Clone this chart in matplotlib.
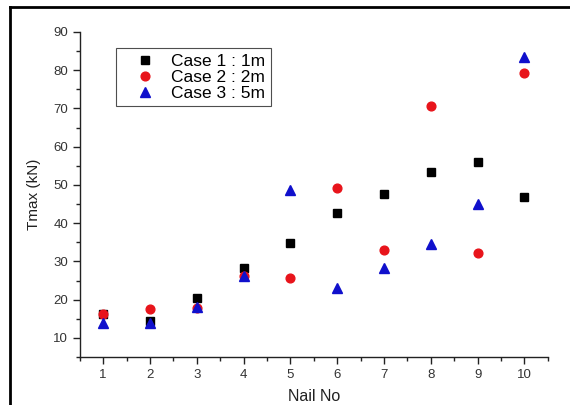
import matplotlib
matplotlib.use("Agg")
import matplotlib.pyplot as plt
from matplotlib.lines import Line2D
from matplotlib.ticker import MultipleLocator

plt.rcParams['font.family'] = ['Liberation Sans', 'DejaVu Sans']

nail_no = [1, 2, 3, 4, 5, 6, 7, 8, 9, 10]
case1 = [16.3, 14.3, 20.5, 28.4, 34.9, 42.6, 47.6, 53.4, 56.1, 46.8]
case2 = [16.3, 17.5, 17.7, 26.3, 25.6, 49.3, 33.0, 70.7, 32.3, 79.2]
case3 = [14.0, 13.8, 18.2, 26.3, 48.6, 23.0, 28.3, 34.5, 45.0, 83.4]
labels = ['Case 1 : 1m', 'Case 2 : 2m', 'Case 3 : 5m']

fig = plt.figure(figsize=(5.7, 4.05), dpi=100)
ax = fig.add_axes([0.140, 0.1185, 0.821, 0.8025])

ax.plot(nail_no, case1, linestyle='none', marker='s', ms=5.8, color='black', label=labels[0])
ax.plot(nail_no, case2, linestyle='none', marker='o', ms=6.3, color='#e8141b', label=labels[1])
ax.plot(nail_no, case3, linestyle='none', marker='^', ms=6.8, color='#1010cc', label=labels[2])

ax.set_xlim(0.5, 10.5)
ax.set_ylim(5, 90)
ax.xaxis.set_major_locator(MultipleLocator(1))
ax.xaxis.set_minor_locator(MultipleLocator(0.5))
ax.yaxis.set_minor_locator(MultipleLocator(5))
ax.set_yticks(range(10, 100, 10))
ax.spines['top'].set_visible(False)
ax.spines['right'].set_visible(False)
for s in ['left', 'bottom']:
    ax.spines[s].set_linewidth(1.0)
    ax.spines[s].set_color('#222222')
ax.tick_params(which='major', direction='out', length=5, width=1, labelsize=9.5,
               colors='#222222', labelcolor='#333333')
ax.tick_params(which='minor', direction='out', length=3, width=1, colors='#222222')

ax.set_xlabel('Nail No', fontsize=11.5, color='#222222', labelpad=6)
ax.set_ylabel('Tmax (kN)', fontsize=11, color='#222222', labelpad=9)

leg = ax.legend(loc='upper left', bbox_to_anchor=(0.077, 0.95), fontsize=12.5,
                frameon=True, fancybox=False, edgecolor='#222222',
                handletextpad=0.1, borderpad=0.3, labelspacing=0.05, handlelength=2.8,
                borderaxespad=0)
leg.get_frame().set_linewidth(0.8)

# outer frame of the picture (left and top only)
fig.add_artist(Line2D([0.017, 0.017], [0.0, 0.982], transform=fig.transFigure, color='black', lw=2))
fig.add_artist(Line2D([0.017, 1.0], [0.982, 0.982], transform=fig.transFigure, color='black', lw=2))

fig.savefig('out.png', dpi=100)
